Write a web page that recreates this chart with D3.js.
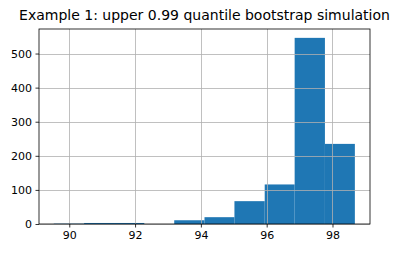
<!DOCTYPE html>
<html>
<head>
<meta charset="utf-8">
<script src="https://cdn.jsdelivr.net/npm/d3@7"></script>
<style>
  body { margin: 0; background: #fff; }
  svg { font-family: "DejaVu Sans", sans-serif; }
</style>
</head>
<body>
<svg width="400" height="253"></svg>
<script>
var title = "Example 1: upper 0.99 quantile bootstrap simulation";
var binEdges = [89.53, 90.45, 91.36, 92.28, 93.19, 94.11, 95.02, 95.94, 96.85, 97.77, 98.68];
var counts = [1, 3, 3, 0, 11, 20, 67, 116, 546, 235];
var xTicks = [90, 92, 94, 96, 98];
var yTicks = [0, 100, 200, 300, 400, 500];

var margin = { top: 29, right: 30, bottom: 29, left: 39 },
    width = 400 - margin.left - margin.right,
    height = 253 - margin.top - margin.bottom;

var svg = d3.select("svg");
var g = svg.append("g")
    .attr("transform", "translate(" + margin.left + "," + margin.top + ")");

var x = d3.scaleLinear().domain([89.08, 99.14]).range([0, width]);
var y = d3.scaleLinear().domain([0, 572]).range([height, 0]);

var bins = counts.map(function (c, i) {
    return { x0: binEdges[i], x1: binEdges[i + 1], n: c };
});

// bars
g.selectAll("rect.bar")
    .data(bins)
    .enter().append("rect")
    .attr("class", "bar")
    .attr("x", function (d) { return x(d.x0); })
    .attr("width", function (d) { return x(d.x1) - x(d.x0); })
    .attr("y", function (d) { return y(d.n); })
    .attr("height", function (d) { return height - y(d.n); })
    .attr("fill", "#1f77b4");

// grid on top of bars
g.selectAll("line.gx")
    .data(xTicks)
    .enter().append("line")
    .attr("x1", function (d) { return Math.round(x(d)) + 0.5; })
    .attr("x2", function (d) { return Math.round(x(d)) + 0.5; })
    .attr("y1", 0).attr("y2", height)
    .attr("stroke", "#b0b0b0").attr("stroke-width", 0.8);

g.selectAll("line.gy")
    .data(yTicks)
    .enter().append("line")
    .attr("y1", function (d) { return Math.round(y(d)) + 0.5; })
    .attr("y2", function (d) { return Math.round(y(d)) + 0.5; })
    .attr("x1", 0).attr("x2", width)
    .attr("stroke", "#b0b0b0").attr("stroke-width", 0.8);

// axes
var xAxis = g.append("g")
    .attr("transform", "translate(0," + height + ")")
    .call(d3.axisBottom(x).tickValues(xTicks).tickSize(3.5).tickPadding(4));
var yAxis = g.append("g")
    .call(d3.axisLeft(y).tickValues(yTicks).tickSize(3.5).tickPadding(3.5));

[xAxis, yAxis].forEach(function (a) {
    a.select(".domain").remove();
    a.selectAll("text").attr("font-size", 11).attr("fill", "#000")
        .attr("font-family", "DejaVu Sans, sans-serif");
    a.selectAll("line").attr("stroke", "#000").attr("stroke-width", 0.8);
});

// frame
g.append("rect")
    .attr("x", 0).attr("y", 0)
    .attr("width", width).attr("height", height)
    .attr("fill", "none").attr("stroke", "#000").attr("stroke-width", 0.8);

svg.append("text")
    .attr("x", margin.left + width / 2)
    .attr("y", 20)
    .attr("text-anchor", "middle")
    .attr("font-size", 14)
    .attr("fill", "#000")
    .text(title);
</script>
</body>
</html>
